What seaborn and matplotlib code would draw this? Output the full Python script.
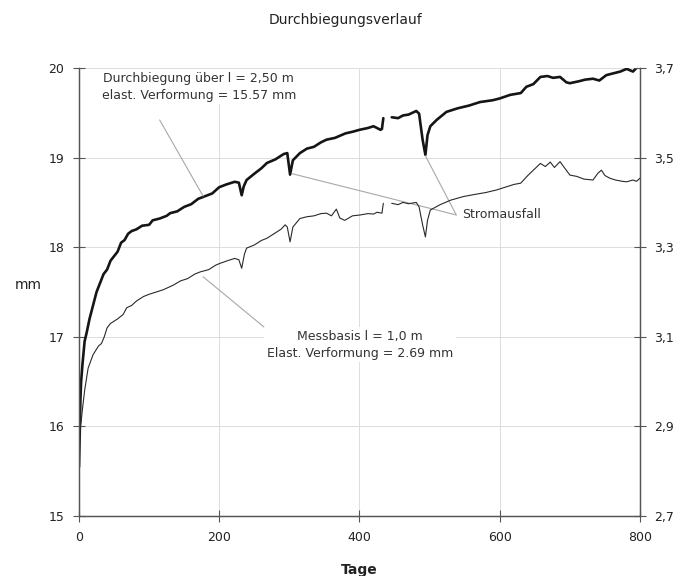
import numpy as np
import pandas as pd
import matplotlib
matplotlib.use("Agg")
import matplotlib.pyplot as plt
import seaborn as sns

# ---- data ----
# Durchbiegung (left axis, mm), two segments around the data gap
tage_durch_a = [0, 1, 2, 3, 5, 8, 11, 15, 20, 25, 30, 35, 40, 45, 50, 55, 60, 65, 70, 75,
                82, 90, 100, 105, 115, 125, 130, 140, 150, 160, 170, 180, 190, 200, 210,
                222, 228, 232, 235, 239, 250, 260, 268, 280, 292, 297, 301, 305, 315, 325,
                335, 345, 353, 365, 380, 391, 400, 412, 420, 430, 432, 434]
mm_durch_a = [15.55, 15.9, 16.3, 16.5, 16.7, 16.95, 17.05, 17.2, 17.35, 17.5, 17.6, 17.7,
              17.75, 17.85, 17.9, 17.95, 18.05, 18.08, 18.15, 18.18, 18.2, 18.24, 18.25,
              18.3, 18.32, 18.35, 18.38, 18.4, 18.45, 18.48, 18.54, 18.57, 18.6, 18.67,
              18.7, 18.73, 18.72, 18.58, 18.68, 18.75, 18.82, 18.88, 18.94, 18.98, 19.04,
              19.05, 18.81, 18.97, 19.05, 19.1, 19.12, 19.17, 19.2, 19.22, 19.27, 19.29,
              19.31, 19.33, 19.35, 19.31, 19.32, 19.44]
tage_durch_b = [446, 455, 462, 470, 481, 485, 490, 494, 497, 501, 510, 524, 540, 556, 572,
                590, 600, 615, 630, 638, 648, 658, 668, 676, 686, 695, 700, 712, 722, 733,
                742, 752, 762, 772, 781, 790, 795, 800]
mm_durch_b = [19.45, 19.44, 19.47, 19.48, 19.52, 19.49, 19.2, 19.03, 19.25, 19.35, 19.42,
              19.51, 19.55, 19.58, 19.62, 19.64, 19.66, 19.7, 19.72, 19.79, 19.82, 19.9,
              19.91, 19.89, 19.9, 19.84, 19.83, 19.85, 19.87, 19.88, 19.86, 19.92, 19.94,
              19.96, 19.99, 19.96, 20.0, 20.02]

# Messbasis (right axis)
tage_mess_a = [2, 3, 5, 8, 13, 20, 28, 32, 36, 40, 45, 50, 55, 63, 68, 75, 82, 92, 100,
               110, 120, 134, 145, 155, 165, 173, 185, 195, 201, 212, 222, 228, 232, 236,
               239, 250, 260, 268, 278, 288, 294, 297, 301, 305, 315, 325, 335, 345, 353,
               360, 367, 372, 379, 390, 401, 412, 420, 425, 432, 434]
val_mess_a = [2.90, 2.91, 2.94, 2.98, 3.03, 3.06, 3.08, 3.085, 3.10, 3.12, 3.13, 3.135,
              3.14, 3.15, 3.165, 3.17, 3.18, 3.19, 3.195, 3.20, 3.205, 3.215, 3.225, 3.23,
              3.24, 3.245, 3.25, 3.26, 3.264, 3.27, 3.275, 3.272, 3.253, 3.285, 3.298,
              3.305, 3.315, 3.32, 3.33, 3.34, 3.35, 3.345, 3.312, 3.345, 3.364, 3.368,
              3.37, 3.375, 3.376, 3.37, 3.385, 3.365, 3.36, 3.37, 3.372, 3.375, 3.374,
              3.378, 3.376, 3.398]
tage_mess_b = [446, 455, 462, 470, 481, 485, 490, 494, 497, 501, 515, 530, 548, 565, 580,
               596, 610, 620, 630, 640, 650, 658, 665, 672, 678, 686, 692, 700, 710, 720,
               733, 740, 745, 750, 757, 765, 775, 781, 790, 795, 800]
val_mess_b = [3.398, 3.395, 3.40, 3.397, 3.40, 3.39, 3.35, 3.323, 3.36, 3.383, 3.395,
              3.405, 3.413, 3.418, 3.422, 3.428, 3.435, 3.44, 3.443, 3.46, 3.475, 3.487,
              3.48, 3.49, 3.478, 3.491, 3.478, 3.461, 3.458, 3.452, 3.45, 3.465, 3.472,
              3.46, 3.454, 3.45, 3.447, 3.446, 3.45, 3.447, 3.454]

left_ticks = [15, 16, 17, 18, 19, 20]
right_ticks = [2.7, 2.9, 3.1, 3.3, 3.5, 3.7]
right_labels = ["2,7", "2,9", "3,1", "3,3", "3,5", "3,7"]
x_ticks = [0, 200, 400, 600, 800]

durch = pd.DataFrame({
    "Tage": tage_durch_a + tage_durch_b,
    "mm": mm_durch_a + mm_durch_b,
    "seg": [0] * len(tage_durch_a) + [1] * len(tage_durch_b),
})
mess = pd.DataFrame({
    "Tage": tage_mess_a + tage_mess_b,
    "wert": val_mess_a + val_mess_b,
    "seg": [0] * len(tage_mess_a) + [1] * len(tage_mess_b),
})

# ---- plot ----
sns.set_theme(style="white")
plt.rcParams["font.family"] = ["DejaVu Sans"]

fig = plt.figure(figsize=(6.9, 5.76), dpi=100)
ax = fig.add_axes([0.1145, 0.104, 0.813, 0.778])
ax2 = ax.twinx()

sns.lineplot(data=durch, x="Tage", y="mm", units="seg", estimator=None,
             color="#151515", lw=1.9, ax=ax)
sns.lineplot(data=mess, x="Tage", y="wert", units="seg", estimator=None,
             color="#2a2a2a", lw=0.8, ax=ax2)

ax.set_xlim(0, 800)
ax.set_ylim(15, 20)
ax2.set_ylim(2.7, 3.7)
ax.set_xticks(x_ticks)
ax.set_yticks(left_ticks)
ax2.set_yticks(right_ticks)
ax2.set_yticklabels(right_labels)

ax.grid(True, color="#dddddd", lw=0.7)
ax.set_axisbelow(True)
ax2.grid(False)

for a in (ax, ax2):
    a.spines["top"].set_visible(False)
    for s in ("left", "right", "bottom"):
        a.spines[s].set_color("#555555")
        a.spines[s].set_linewidth(0.9)
ax.tick_params(axis="both", bottom=True, left=True, direction="inout", length=9,
               width=0.8, colors="#555555", labelcolor="#222222", labelsize=9, pad=6)
ax2.tick_params(axis="y", right=True, direction="inout", length=9, width=0.8,
                colors="#555555", labelcolor="#222222", labelsize=9, pad=6)

ax.set_xlabel("Tage", fontsize=10, fontweight="bold", color="#222222", labelpad=14)
ax.set_ylabel("mm", fontsize=10, rotation=0, color="#222222")
ax.yaxis.set_label_coords(-0.091, 0.5)
ax2.set_ylabel("")
fig.suptitle("Durchbiegungsverlauf", y=0.978, fontsize=10, color="#222222")

# ---- annotations ----
lead = dict(arrowstyle="-", color="#a8a8a8", lw=0.8, shrinkA=0, shrinkB=0)
box = dict(facecolor="white", edgecolor="none", pad=2)
txt = dict(fontsize=9, color="#333333", ha="center", va="center", zorder=5)

ax.text(171, 19.79, "Durchbiegung über l = 2,50 m\nelast. Verformung = 15.57 mm",
        bbox=box, linespacing=1.35, **txt)
ax.annotate("", xy=(177, 18.57), xytext=(115, 19.42), arrowprops=lead)

ax.text(546, 18.36, "Stromausfall", fontsize=9, color="#333333", ha="left",
        va="center", zorder=5)
ax.annotate("", xy=(304, 18.82), xytext=(538, 18.36), arrowprops=lead)
ax.annotate("", xy=(494, 19.02), xytext=(538, 18.36), arrowprops=lead)

ax.text(401, 16.91, "Messbasis l = 1,0 m\nElast. Verformung = 2.69 mm",
        bbox=box, linespacing=1.35, **txt)
ax.annotate("", xy=(177, 17.67), xytext=(287, 16.96), arrowprops=lead)

fig.savefig("out.png", dpi=100, facecolor="white")
